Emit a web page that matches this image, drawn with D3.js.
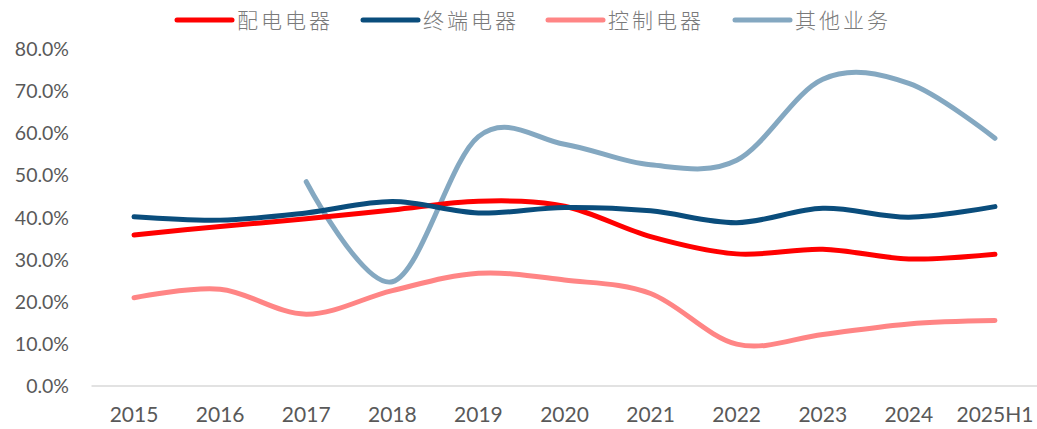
<!DOCTYPE html>
<html>
<head>
<meta charset="utf-8">
<script src="https://cdn.jsdelivr.net/npm/d3@7"></script>
<style>
  body { margin: 0; background: #fff; }
  .tick text { font-family: Lato, "Liberation Sans", sans-serif; fill: #595959; }
</style>
</head>
<body>
<div id="chart"></div>
<script>
// Data
var years = ["2015", "2016", "2017", "2018", "2019", "2020", "2021", "2022", "2023", "2024", "2025H1"];
var peidian = [35.7, 37.7, 39.5, 41.6, 43.7, 42.5, 35.3, 31.2, 32.3, 30.0, 31.1];
var zhongduan = [40.0, 39.2, 40.9, 43.6, 40.9, 42.2, 41.4, 38.6, 42.0, 39.9, 42.4];
var kongzhi = [20.8, 22.8, 16.9, 22.5, 26.6, 25.0, 21.8, 9.8, 12.1, 14.6, 15.4];
var qita = [null, null, 48.3, 24.6, 59.0, 57.2, 52.3, 53.4, 72.6, 71.6, 58.6];
var yTicks = [0, 10, 20, 30, 40, 50, 60, 70, 80];

var series = [
  {name: "配电电器", values: peidian, color: "#FF0000"},
  {name: "终端电器", values: zhongduan, color: "#0A4D7C"},
  {name: "控制电器", values: kongzhi, color: "#FF8585"},
  {name: "其他业务", values: qita, color: "#84A8C1"}
];

var W = 1037, H = 429;
var svg = d3.select("#chart").append("svg")
  .attr("width", W).attr("height", H);

var x = d3.scaleBand().domain(years).range([91, 1038]);
var y = d3.scaleLinear().domain([0, 80]).range([385.5, 48]);

// Y axis labels
var yAxis = svg.append("g")
  .attr("transform", "translate(69,0)")
  .call(d3.axisLeft(y).tickValues(yTicks).tickSize(0).tickPadding(0)
    .tickFormat(function(d) { return d.toFixed(1) + "%"; }));
yAxis.select(".domain").remove();
yAxis.selectAll("text").style("font-size", "19.5px").attr("dy", "0.38em");

// X axis
var xAxis = svg.append("g")
  .attr("transform", "translate(0," + y(0) + ")")
  .call(d3.axisBottom(x).tickSize(0).tickPadding(22));
xAxis.select(".domain").attr("stroke", "#d9d9d9").attr("stroke-width", 1.5);
xAxis.selectAll("text").style("font-size", "21px");

// Lines
var line = d3.line()
  .defined(function(d) { return d != null; })
  .x(function(d, i) { return x(years[i]) + x.bandwidth() / 2; })
  .y(function(d) { return y(d); })
  .curve(d3.curveCardinal.tension(0));

var order = [series[3], series[2], series[0], series[1]];
svg.append("g").selectAll("path")
  .data(order)
  .enter()
  .append("path")
    .attr("d", function(d) { return line(d.values); })
    .attr("fill", "none")
    .attr("stroke", function(d) { return d.color; })
    .attr("stroke-width", 5)
    .attr("stroke-linecap", "round")
    .attr("stroke-linejoin", "round");

// Legend
var legendX = [177, 363, 548, 735];
var legend = svg.append("g").selectAll("g")
  .data(series)
  .enter()
  .append("g")
    .attr("transform", function(d, i) { return "translate(" + legendX[i] + ",20)"; });
legend.append("line")
  .attr("x1", 0).attr("x2", 55)
  .attr("stroke", function(d) { return d.color; })
  .attr("stroke-width", 5)
  .attr("stroke-linecap", "round");
legend.append("text")
  .attr("x", 60)
  .attr("dy", "0.36em")
  .style("font-family", "'Noto Sans CJK SC', sans-serif")
  .style("font-weight", 300)
  .style("font-size", "21px")
  .style("letter-spacing", "3px")
  .style("fill", "#7a7a7a")
  .text(function(d) { return d.name; });
</script>
</body>
</html>
